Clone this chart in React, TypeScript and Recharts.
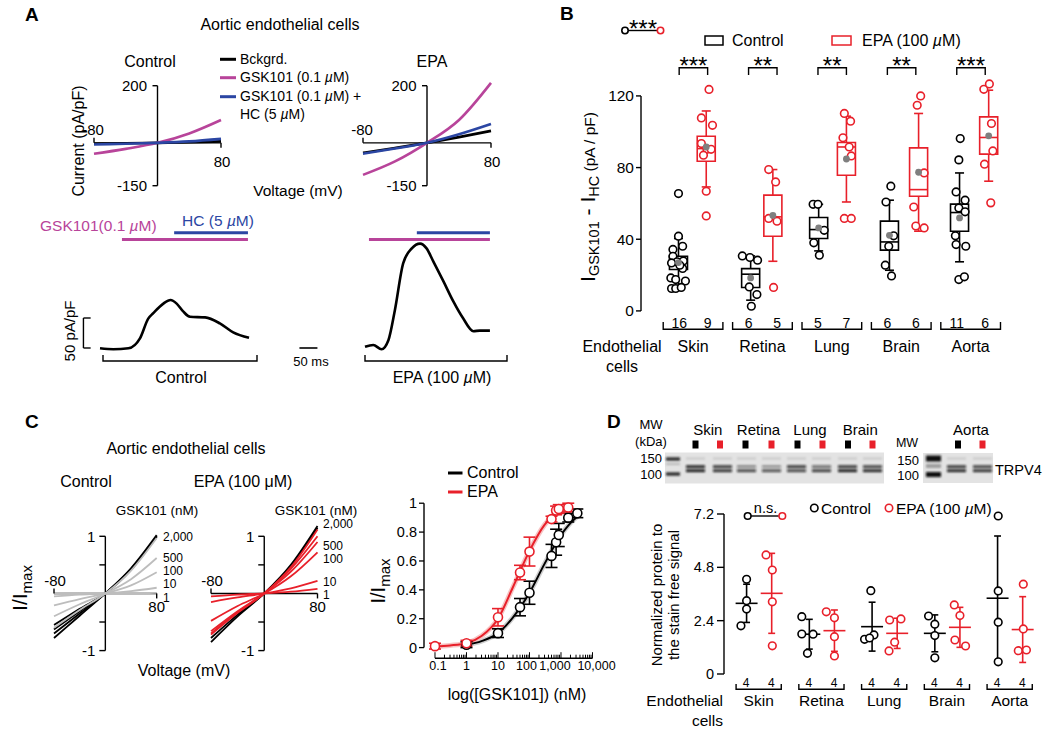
import React from "react";
import {
  ComposedChart, Line, Scatter, XAxis, YAxis,
  ReferenceLine, ReferenceArea, ReferenceDot, ErrorBar,
} from "recharts";

const FONT = "'Liberation Sans', Arial, Helvetica, sans-serif";
const RED = "#e8202a";
const MAGENTA = "#b8449a";
const BLUE = "#2b46a3";
const GREY_LINE = "#bdbdbd";
const MEAN_GREY = "#7f7f7f";

// ---------- A: I-V relations (mV, pA/pF) ----------
const ivVoltA = [-80, -40, 0, 40, 80];
const ivCtrlBckgrd = [-3, -1.5, 0, 2, 5];
const ivCtrlGsk = [-38, -21, 0, 33, 80];
const ivCtrlHc = [-6, -3, 0, 5, 14];
const ivEpaBckgrd = [-35, -18, 0, 20, 42];
const ivEpaGsk = [-112, -65, 0, 80, 210];
const ivEpaHc = [-38, -20, 0, 30, 66];

// ---------- A: time courses (ms, pA/pF) ----------
const traceCtrlT = [0, 37, 79, 111, 134, 148, 176, 196, 213, 231, 250, 292, 333, 370, 414];
const traceCtrlI = [-0.5, -2, -0.5, 16, 49, 58, 74, 80, 74, 61, 52, 51, 41, 26, 17];
const traceEpaT = [0, 23, 46, 65, 83, 106, 130, 153, 171, 190, 218, 245, 273, 301, 319, 347];
const traceEpaI = [2, 5, -2, 13, 63, 141, 166, 174, 166, 144, 111, 78, 49, 28, 29, 29];
const appCtrlGsk = [61, 411];
const appCtrlHc = [206, 411];
const appEpaGsk = [11, 347];
const appEpaHc = [144, 347];
const BAR_GSK = 181; // level of the application bars
const BAR_HC = 192;

// ---------- B ----------
const tissues = ["Skin", "Retina", "Lung", "Brain", "Aorta"];
const bCtrlN = [16, 6, 5, 6, 11];
const bEpaN = [9, 5, 7, 6, 6];
const bStars = ["***", "**", "**", "**", "***"];
// [whisker low, q1, median, q3, whisker high, mean]
const bCtrlBox = [
  [12.5, 23.1, 26.8, 30.5, 40.4, 27.0],
  [6.0, 13.1, 20.5, 23.6, 30.7, 18.4],
  [33.5, 40.4, 45.4, 52.1, 59.5, 46.3],
  [22.7, 33.9, 38.5, 50.1, 61.8, 42.2],
  [27.4, 44.5, 54.9, 59.6, 77.0, 51.9],
];
const bEpaBox = [
  [69.2, 83.5, 90.6, 97.5, 111.6, 91.5],
  [27.7, 41.7, 52.5, 64.6, 78.9, 53.3],
  [60.8, 75.7, 91.5, 94.0, 108.7, 84.8],
  [44.5, 64.0, 67.7, 91.0, 110.2, 77.4],
  [72.4, 87.5, 96.8, 108.3, 123.2, 97.7],
];
const bCtrlX = [0.29, 1.33, 2.31, 3.33, 4.34];
const bEpaX = [0.69, 1.65, 2.71, 3.75, 4.76];
const bCtrlPts = [
  [[0.29, 65.5], [0.29, 41.7], [0.21, 34.3], [0.35, 36.1], [0.21, 30.5], [0.27, 27.4], [0.36, 27.9], [0.19, 26.8], [0.35, 23.7], [0.18, 18.4], [0.25, 17.5], [0.39, 16.7], [0.19, 12.5], [0.25, 12.5], [0.33, 13.1], [0.31, 25.5]],
  [[1.21, 30.7], [1.32, 29.8], [1.43, 28.3], [1.31, 13.4], [1.42, 9.1], [1.34, 2.6]],
  [[2.23, 59.5], [2.3, 59.5], [2.39, 45.0], [2.24, 38.0], [2.32, 31.1]],
  [[3.35, 69.6], [3.28, 60.8], [3.32, 36.1], [3.39, 41.9], [3.27, 25.5], [3.36, 19.5]],
  [[4.35, 96.2], [4.33, 84.3], [4.29, 66.4], [4.42, 61.8], [4.33, 57.5], [4.42, 55.3], [4.28, 41.9], [4.29, 37.0], [4.43, 36.1], [4.33, 17.5], [4.41, 19.0]],
];
const bEpaPts = [
  [[0.73, 123.6], [0.62, 107.7], [0.78, 103.6], [0.62, 93.4], [0.7, 90.2], [0.76, 90.2], [0.65, 86.9], [0.69, 66.8], [0.69, 53.0]],
  [[1.59, 78.9], [1.69, 72.0], [1.59, 51.6], [1.71, 50.1], [1.66, 13.1]],
  [[2.68, 110.2], [2.77, 105.9], [2.66, 96.6], [2.75, 91.5], [2.78, 86.5], [2.68, 51.6], [2.78, 51.6]],
  [[3.73, 114.8], [3.78, 120.0], [3.68, 58.0], [3.83, 77.0], [3.71, 47.4], [3.83, 46.3]],
  [[4.69, 123.7], [4.77, 126.7], [4.8, 104.6], [4.82, 89.3], [4.7, 81.9], [4.79, 60.3]],
];

// ---------- C: normalized I-V ----------
const ivVoltC = [-80, -40, 0, 40, 80];
const cCtrlBlack = [
  [-0.55, -0.27, 0, 0.41, 1.0],
  [-0.63, -0.31, 0, 0.42, 1.0],
  [-0.7, -0.35, 0, 0.43, 0.99],
  [-0.78, -0.39, 0, 0.44, 1.02],
];
const cCtrlGrey = [
  [-0.6, -0.29, 0, 0.4, 0.97],
  [-0.4, -0.19, 0, 0.25, 0.62],
  [-0.21, -0.1, 0, 0.14, 0.37],
  [-0.05, -0.02, 0, 0.04, 0.1],
  [-0.01, 0, 0, 0, 0.01],
];
const cEpaBlack = [
  [-0.78, -0.37, 0, 0.48, 1.15],
  [-0.85, -0.4, 0, 0.5, 1.18],
];
const cEpaRed = [
  [-0.72, -0.34, 0, 0.46, 1.12],
  [-0.7, -0.33, 0, 0.43, 1.0],
  [-0.66, -0.31, 0, 0.38, 0.9],
  [-0.48, -0.22, 0, 0.3, 0.72],
  [-0.15, -0.07, 0, 0.09, 0.22],
  [-0.05, -0.02, 0, 0.03, 0.08],
];
const concLabels = ["2,000", "500", "100", "10", "1"];

// ---------- C: dose response ----------
const drCtrlConc = [1, 10, 50, 100, 500, 700, 850, 1700, 3300];
const drCtrlMean = [0.02, 0.1, 0.28, 0.38, 0.635, 0.73, 0.78, 0.9, 0.93];
const drCtrlErr = [0.02, 0.03, 0.06, 0.08, 0.08, 0.09, 0.08, 0.03, 0.03];
const drEpaConc = [0.1, 1, 10, 50, 100, 500, 700, 850, 1700];
const drEpaMean = [0.01, 0.03, 0.21, 0.52, 0.665, 0.89, 0.95, 0.96, 0.97];
const drEpaErr = [0.02, 0.02, 0.06, 0.05, 0.1, 0.02, 0.03, 0.03, 0.03];
const fitCtrlConc = [1, 3, 10, 30, 100, 300, 1000, 3000, 4000];
const fitCtrlVal = [0.02, 0.045, 0.1, 0.21, 0.38, 0.58, 0.78, 0.9, 0.92];
const fitEpaConc = [0.1, 0.3, 1, 3, 10, 30, 100, 300, 1000, 2000];
const fitEpaVal = [0.008, 0.015, 0.03, 0.08, 0.2, 0.42, 0.67, 0.85, 0.95, 0.97];
const drMajor = [0.1, 1, 10, 100, 1000, 10000];
const drMajorLabel = ["0.1", "1", "10", "100", "1,000", "10,000"];
const drLabelShift = [3, 0, 0, -3, -6, 4];
const drYTicks = [0, 0.2, 0.4, 0.6, 0.8, 1];

// ---------- D ----------
const dCtrlMean = [3.18, 1.79, 2.13, 1.83, 3.41];
const dCtrlSd = [0.86, 0.67, 1.1, 0.83, 2.8];
const dEpaMean = [3.63, 1.95, 1.83, 2.1, 2.0];
const dEpaSd = [1.8, 0.93, 0.68, 0.9, 1.48];
const dCtrlPts = [
  [[0.31, 4.26], [0.31, 3.3], [0.31, 2.92], [0.22, 2.17]],
  [[1.19, 2.58], [1.19, 1.8], [1.37, 1.79], [1.28, 0.93]],
  [[2.29, 3.75], [2.19, 1.56], [2.34, 1.76], [2.27, 1.62]],
  [[3.21, 2.61], [3.31, 2.24], [3.31, 1.73], [3.31, 0.73]],
  [[4.32, 7.11], [4.32, 3.74], [4.32, 2.33], [4.32, 0.55]],
];
const dEpaPts = [
  [[0.62, 5.36], [0.72, 4.68], [0.72, 3.25], [0.72, 1.27]],
  [[1.58, 2.8], [1.71, 2.53], [1.71, 1.68], [1.71, 0.81]],
  [[2.59, 2.43], [2.77, 2.48], [2.67, 1.43], [2.58, 1.04]],
  [[3.62, 3.11], [3.71, 2.63], [3.63, 1.53], [3.8, 1.26]],
  [[4.72, 4.04], [4.72, 2.03], [4.64, 1.05], [4.77, 1.08]],
];
const dN = [4, 4, 4, 4, 4];

// blot lanes (band darkness)
const blotLaneX = [686, 713, 737, 762, 787, 812, 838, 863, 947, 973];
const blotUpper = [0.95, 0.85, 0.45, 0.4, 0.85, 0.6, 0.85, 0.8, 0.85, 0.8];
const blotLower = [0.95, 0.85, 0.75, 0.7, 0.75, 0.8, 0.95, 0.9, 0.9, 0.85];
const blotSquareX = [695.5, 720, 745.5, 771.5, 797.5, 822.5, 848, 872.5, 958, 982.5];

// ---------- geometry ----------
type Rect = [number, number, number, number];
const PAD = 30;

const B_L = 641, B_XU = 69.4, B_XMIN = -0.25, B_XMAX = 5, B_Y0 = 310.7, B_YU = 1.7917, B_YMAX = 130;
const bx = (v: number) => B_L + (v - B_XMIN) * B_XU;
const D_X0 = 727.3, D_XU = 62.75, D_XMIN = -0.05, D_XMAX = 5;
const dx = (v: number) => D_X0 + v * D_XU;
const DR_XMIN = 0.0448, DR_YMIN = -0.0734;

function Plot({ rect, yw = 0, xh = 0, children }: { rect: Rect; yw?: number; xh?: number; children: React.ReactNode }) {
  const [l, t, r, b] = rect;
  return (
    <div style={{ position: "absolute", left: l - yw - PAD, top: t - PAD }}>
      <ComposedChart width={r - l + yw + 2 * PAD} height={b - t + xh + 2 * PAD}
        margin={{ top: PAD, right: PAD, bottom: PAD, left: PAD }}>
        {children}
      </ComposedChart>
    </div>
  );
}

function mark(ddx: number, ddy: number, label?: string, lx = 0, ly = 0, anchor = "middle", size = 15) {
  return (p: any) => (
    <g>
      <line x1={p.cx} y1={p.cy} x2={p.cx + ddx} y2={p.cy + ddy} stroke="#000" strokeWidth={1.4} />
      {label ? (
        <text x={p.cx + lx} y={p.cy + ly} textAnchor={anchor} fontSize={size} fontFamily={FONT} fill="#000">{label}</text>
      ) : null}
    </g>
  );
}

function seg(key: string, x1: number, y1: number, x2: number, y2: number, c: string, w = 1.6) {
  return <ReferenceLine key={key} segment={[{ x: x1, y: y1 }, { x: x2, y: y2 }]} stroke={c} strokeWidth={w} />;
}

const ring = (c: string, r = 3.8) => (p: any) => (
  <circle cx={p.cx} cy={p.cy} r={r} fill="#fff" stroke={c} strokeWidth={1.6} />
);

function IvA({ rect, bk, gsk, hc }: { rect: Rect; bk: number[]; gsk: number[]; hc: number[] }) {
  const ser = (v: number[]) => ivVoltA.map((x, i) => ({ x, y: v[i] }));
  return (
    <Plot rect={rect}>
      <XAxis type="number" dataKey="x" domain={[-80, 80]} hide />
      <YAxis type="number" dataKey="y" domain={[-150, 220]} hide />
      {seg("ya", 0, -150, 0, 200, "#000", 1.4)}
      {seg("xa", -80, 0, 80, 0, "#000", 1.4)}
      <ReferenceDot x={0} y={200} r={0} shape={mark(-5, 0, "200", -10.5, 5.5, "end")} />
      <ReferenceDot x={0} y={-150} r={0} shape={mark(-5, 0, "-150", -10.5, 5.5, "end")} />
      <ReferenceDot x={-80} y={0} r={0} shape={mark(0, -5, "-80", -1, -8)} />
      <ReferenceDot x={80} y={0} r={0} shape={mark(0, 5, "80", 1, 24)} />
      <Line data={ser(bk)} dataKey="y" type="monotone" stroke="#000" strokeWidth={2.6} dot={false} activeDot={false} isAnimationActive={false} />
      <Line data={ser(gsk)} dataKey="y" type="monotone" stroke={MAGENTA} strokeWidth={2.6} dot={false} activeDot={false} isAnimationActive={false} />
      <Line data={ser(hc)} dataKey="y" type="monotone" stroke={BLUE} strokeWidth={2.6} dot={false} activeDot={false} isAnimationActive={false} />
    </Plot>
  );
}

function Trace({ rect, domain, t, cur, gsk, hc, scaleBars }: any) {
  const data = t.map((x: number, k: number) => ({ x, y: cur[k] }));
  return (
    <Plot rect={rect}>
      <XAxis type="number" dataKey="x" domain={domain} hide />
      <YAxis type="number" dataKey="y" domain={[-20, 200]} hide />
      {seg("g", gsk[0], BAR_GSK, gsk[1], BAR_GSK, MAGENTA, 3)}
      {seg("h", hc[0], BAR_HC, hc[1], BAR_HC, BLUE, 3)}
      {scaleBars ? [
        seg("sv", -46, 0, -46, 50, "#000", 1.4),
        seg("st", -46, 50, -26, 50, "#000", 1.4),
        seg("sb", -46, 0, -26, 0, "#000", 1.4),
        seg("sm", 554, 0, 604, 0, "#000", 1.6),
      ] : null}
      <Line data={data} dataKey="y" type="monotone" stroke="#000" strokeWidth={2.6} dot={false} activeDot={false} isAnimationActive={false} />
    </Plot>
  );
}

function IvC({ rect, lines }: { rect: Rect; lines: { c: string; v: number[] }[] }) {
  return (
    <Plot rect={rect}>
      <XAxis type="number" dataKey="x" domain={[-80, 80]} hide />
      <YAxis type="number" dataKey="y" domain={[-1, 1.25]} hide />
      {seg("ya", 0, -1, 0, 1, "#000", 1.4)}
      {seg("xa", -80, 0, 80, 0, "#000", 1.4)}
      <ReferenceDot x={0} y={1} r={0} shape={mark(-6, 0, "1", -10, 5.5, "end")} />
      <ReferenceDot x={0} y={0.5} r={0} shape={mark(-6, 0)} />
      <ReferenceDot x={0} y={-0.5} r={0} shape={mark(-6, 0)} />
      <ReferenceDot x={0} y={-1} r={0} shape={mark(-6, 0, "-1", -10, 5.5, "end")} />
      <ReferenceDot x={-80} y={0} r={0} shape={mark(0, -5, "-80", 1, -7)} />
      <ReferenceDot x={80} y={0} r={0} shape={mark(0, 5, "80", 0, 19)} />
      {lines.map((ln, i) => (
        <Line key={i} data={ivVoltC.map((x, j) => ({ x, y: ln.v[j] }))} dataKey="y" type="monotone"
          stroke={ln.c} strokeWidth={1.8} dot={false} activeDot={false} isAnimationActive={false} />
      ))}
    </Plot>
  );
}

function LogTick(p: any) {
  const v = p.payload.value;
  const k = drMajor.indexOf(v);
  return (
    <g>
      <line x1={p.x} x2={p.x} y1={p.y} y2={p.y - (k >= 0 ? 6 : 3.5)} stroke="#000" strokeWidth={1} />
      {k >= 0 ? (
        <text x={p.x + drLabelShift[k]} y={p.y + 11.5} textAnchor="middle" fontSize={12.5} fontFamily={FONT} fill="#000">{drMajorLabel[k]}</text>
      ) : null}
    </g>
  );
}

function DoseResponse() {
  const minor = drMajor.slice(0, -1).flatMap((m) => [2, 3, 4, 5, 6, 7, 8, 9].map((k) => m * k));
  const ticks = [...drMajor, ...minor].sort((a, b) => a - b);
  const pts = (c: number[], m: number[], e: number[]) => c.map((x, i) => ({ x, y: m[i], e: e[i] }));
  const fit = (c: number[], v: number[]) => c.map((x, i) => ({ x, y: v[i] }));
  return (
    <Plot rect={[424, 496.1, 592.5, 658.3]} yw={40} xh={20}>
      <XAxis type="number" dataKey="x" scale="log" domain={[DR_XMIN, 10000]} ticks={ticks} interval={0}
        axisLine={false} tickLine={false} tickSize={0} tickMargin={0} height={20} tick={<LogTick />} />
      <YAxis type="number" dataKey="y" domain={[DR_YMIN, 1.05]} ticks={drYTicks} width={40} axisLine={false}
        tickSize={5} tickMargin={2} tickLine={{ stroke: "#000", strokeWidth: 1.3 }}
        tick={{ fontSize: 14.5, fill: "#000", fontFamily: FONT }}
        tickFormatter={(v: number) => (v === 0 || v === 1 ? String(v) : v.toFixed(1))} />
      {seg("ya", DR_XMIN, 0, DR_XMIN, 1, "#000", 1.4)}
      {seg("xa", 0.1, DR_YMIN, 10000, DR_YMIN, "#000", 1.4)}
      <Line data={fit(fitCtrlConc, fitCtrlVal)} dataKey="y" type="monotone" stroke="#cfcfcf" strokeWidth={5} dot={false} activeDot={false} isAnimationActive={false} />
      <Line data={fit(fitEpaConc, fitEpaVal)} dataKey="y" type="monotone" stroke="#f7c4c4" strokeWidth={5} dot={false} activeDot={false} isAnimationActive={false} />
      <Line data={fit(fitCtrlConc, fitCtrlVal)} dataKey="y" type="monotone" stroke="#000" strokeWidth={2} dot={false} activeDot={false} isAnimationActive={false} />
      <Line data={fit(fitEpaConc, fitEpaVal)} dataKey="y" type="monotone" stroke={RED} strokeWidth={2} dot={false} activeDot={false} isAnimationActive={false} />
      <Scatter data={pts(drCtrlConc, drCtrlMean, drCtrlErr)} shape={ring("#000", 4.5)} isAnimationActive={false}>
        <ErrorBar dataKey="e" direction="y" width={6} stroke="#000" strokeWidth={1.6} isAnimationActive={false} />
      </Scatter>
      <Scatter data={pts(drEpaConc, drEpaMean, drEpaErr)} shape={ring(RED, 4.5)} isAnimationActive={false}>
        <ErrorBar dataKey="e" direction="y" width={6} stroke={RED} strokeWidth={1.6} isAnimationActive={false} />
      </Scatter>
    </Plot>
  );
}

function PanelB() {
  const HW = 0.13, CAP = 0.065;
  const box = (st: number[], cx: number, c: string, key: string) => {
    const [lo, q1, md, q3, hi] = st;
    return [
      <ReferenceArea key={key + "a"} x1={cx - HW} x2={cx + HW} y1={q1} y2={q3} fill="none" fillOpacity={0} stroke={c} strokeWidth={1.6} />,
      seg(key + "m", cx - HW, md, cx + HW, md, c),
      seg(key + "u", cx, q3, cx, hi, c),
      seg(key + "uc", cx - CAP, hi, cx + CAP, hi, c),
      seg(key + "l", cx, q1, cx, lo, c),
      seg(key + "lc", cx - CAP, lo, cx + CAP, lo, c),
    ];
  };
  const toXY = (g: number[][][]) => g.flat().map(([x, y]) => ({ x, y }));
  return (
    <Plot rect={[B_L, B_Y0 - B_YMAX * B_YU, bx(B_XMAX), B_Y0]} yw={40}>
      <XAxis type="number" dataKey="x" domain={[B_XMIN, B_XMAX]} hide />
      <YAxis type="number" dataKey="y" domain={[0, B_YMAX]} ticks={[0, 40, 80, 120]} width={40} axisLine={false}
        tickSize={5} tickMargin={2} tickLine={{ stroke: "#000", strokeWidth: 1.4 }}
        tick={{ fontSize: 15.5, fill: "#000", fontFamily: FONT }} />
      {seg("yaxis", B_XMIN, 0, B_XMIN, 120, "#000", 1.4)}
      {bCtrlBox.map((s, i) => box(s, bCtrlX[i], "#000", "c" + i))}
      {bEpaBox.map((s, i) => box(s, bEpaX[i], RED, "e" + i))}
      <Scatter data={toXY(bCtrlPts)} shape={ring("#000")} isAnimationActive={false} />
      <Scatter data={toXY(bEpaPts)} shape={ring(RED)} isAnimationActive={false} />
      <Scatter data={bCtrlBox.map((s, i) => ({ x: bCtrlX[i], y: s[5] }))} fill={MEAN_GREY}
        shape={(p: any) => <circle cx={p.cx} cy={p.cy} r={3.4} fill={MEAN_GREY} />} isAnimationActive={false} />
      <Scatter data={bEpaBox.map((s, i) => ({ x: bEpaX[i], y: s[5] }))} fill={MEAN_GREY}
        shape={(p: any) => <circle cx={p.cx} cy={p.cy} r={3.4} fill={MEAN_GREY} />} isAnimationActive={false} />
    </Plot>
  );
}

function PanelD() {
  const HW = 0.175, CAP = 0.055;
  const sd = (m: number, s: number, cx: number, c: string, key: string) => [
    seg(key + "m", cx - HW, m, cx + HW, m, c),
    seg(key + "v", cx, m - s, cx, m + s, c),
    seg(key + "t", cx - CAP, m + s, cx + CAP, m + s, c),
    seg(key + "b", cx - CAP, m - s, cx + CAP, m - s, c),
  ];
  const toXY = (g: number[][][]) => g.flat().map(([x, y]) => ({ x, y }));
  return (
    <Plot rect={[dx(D_XMIN), 514, dx(D_XMAX), 674]} yw={40}>
      <XAxis type="number" dataKey="x" domain={[D_XMIN, D_XMAX]} hide />
      <YAxis type="number" dataKey="y" domain={[0, 7.2]} ticks={[0, 2.4, 4.8, 7.2]} width={40}
        axisLine={{ stroke: "#000", strokeWidth: 1.4 }} tickLine={{ stroke: "#000", strokeWidth: 1.4 }}
        tickSize={7} tickMargin={3} tick={{ fontSize: 14.5, fill: "#000", fontFamily: FONT }}
        tickFormatter={(v: number) => (v === 0 ? "0" : v.toFixed(1))} />
      {dCtrlMean.map((m, i) => sd(m, dCtrlSd[i], i + 0.31, "#000", "c" + i))}
      {dEpaMean.map((m, i) => sd(m, dEpaSd[i], i + 0.71, RED, "e" + i))}
      <Scatter data={toXY(dCtrlPts)} shape={ring("#000")} isAnimationActive={false} />
      <Scatter data={toXY(dEpaPts)} shape={ring(RED)} isAnimationActive={false} />
    </Plot>
  );
}

function Overlay() {
  const mu = <tspan fontStyle="italic">µ</tspan>;
  const br = (x1: number, x2: number, yl: number, yt: number, key: string) => (
    <path key={key} d={`M${x1},${yt} V${yl} H${x2} V${yt}`} fill="none" stroke="#000" strokeWidth={1.4} />
  );
  return (
    <svg width={1050} height={733} fontFamily={FONT} fill="#000"
      style={{ position: "absolute", left: 0, top: 0, zIndex: 5, pointerEvents: "none" }}>
      <defs>
        <filter id="blotBlur" x="-20%" y="-100%" width="140%" height="300%">
          <feGaussianBlur stdDeviation="0.8" />
        </filter>
      </defs>

      {/* ---- A ---- */}
      <text x={25} y={21} fontSize={19} fontWeight="bold">A</text>
      <text x={280} y={30} fontSize={16} textAnchor="middle">Aortic endothelial cells</text>
      <text x={150} y={67} fontSize={16} textAnchor="middle">Control</text>
      <text x={432} y={67} fontSize={16} textAnchor="middle">EPA</text>
      <line x1={220} x2={236} y1={59.3} y2={59.3} stroke="#000" strokeWidth={3} />
      <text x={240} y={64} fontSize={14}>Bckgrd.</text>
      <line x1={220} x2={236} y1={77.7} y2={77.7} stroke={MAGENTA} strokeWidth={3} />
      <text x={240} y={82} fontSize={14}>GSK101 (0.1 {mu}M)</text>
      <line x1={220} x2={236} y1={96.7} y2={96.7} stroke={BLUE} strokeWidth={3} />
      <text x={240} y={101} fontSize={14}>GSK101 (0.1 {mu}M) +</text>
      <text x={240} y={119} fontSize={14}>HC (5 {mu}M)</text>
      <text transform="rotate(-90 84 141)" x={84} y={141} fontSize={16} textAnchor="middle">Current (pA/pF)</text>
      <text x={298} y={195.5} fontSize={15.5} textAnchor="middle">Voltage (mV)</text>
      <text x={40} y={230.5} fontSize={15.5} fill={MAGENTA}>GSK101(0.1 {mu}M)</text>
      <text x={218} y={226} fontSize={15.5} fill={BLUE} textAnchor="middle">HC (5 {mu}M)</text>
      <text transform="rotate(-90 75 331)" x={75} y={331} fontSize={15} textAnchor="middle">50 pA/pF</text>
      <text x={311} y={366} fontSize={13} textAnchor="middle">50 ms</text>
      {br(103, 257, 361, 355, "abr1")}
      {br(365, 507, 361, 355, "abr2")}
      <text x={181} y={383} fontSize={16} textAnchor="middle">Control</text>
      <text x={442} y={383} fontSize={16} textAnchor="middle">EPA (100 {mu}M)</text>

      {/* ---- B ---- */}
      <text x={560} y={20} fontSize={19} fontWeight="bold">B</text>
      <line x1={628} x2={657.5} y1={30.5} y2={30.5} stroke="#000" strokeWidth={1.4} />
      <circle cx={625} cy={30.5} r={3.2} fill="#fff" stroke="#000" strokeWidth={1.6} />
      <circle cx={660.5} cy={30.5} r={3.2} fill="#fff" stroke={RED} strokeWidth={1.6} />
      <text x={643} y={37} fontSize={24} textAnchor="middle">***</text>
      <rect x={705} y={36} width={18} height={9} fill="none" stroke="#000" strokeWidth={1.5} />
      <text x={732} y={45.5} fontSize={16}>Control</text>
      <rect x={832} y={36} width={19} height={9} fill="none" stroke={RED} strokeWidth={1.5} />
      <text x={862} y={45.5} fontSize={16}>EPA (100 {mu}M)</text>
      <text transform="rotate(-90 595 197)" x={595} y={197} textAnchor="middle" fontSize={21}>
        I<tspan fontSize={14.5} dy={4}>GSK101</tspan><tspan dy={-4}> - I</tspan><tspan fontSize={14.5} dy={4}>HC</tspan>
        <tspan fontSize={15.5} dy={-4}> (pA / pF)</tspan>
      </text>
      {tissues.map((name, i) => {
        const x1 = bx(i + 0.3), x2 = bx(i + 0.71);
        return (
          <g key={"b" + name}>
            {br(x1, x2, 67.7, 75, "bt" + i)}
            <text x={(x1 + x2) / 2} y={74} fontSize={24} textAnchor="middle">{bStars[i]}</text>
            <text x={x1} y={327.5} fontSize={14} textAnchor="middle">{bCtrlN[i]}</text>
            <text x={x2} y={327.5} fontSize={14} textAnchor="middle">{bEpaN[i]}</text>
            {br(bx(i + 0.07), bx(i + 0.93), 329.3, 322, "bb" + i)}
            <text x={bx(i + 0.5)} y={352} fontSize={16} textAnchor="middle">{name}</text>
          </g>
        );
      })}
      <text x={622} y={352} fontSize={16} textAnchor="middle">Endothelial</text>
      <text x={622} y={372} fontSize={16} textAnchor="middle">cells</text>

      {/* ---- C ---- */}
      <text x={25} y={428} fontSize={19} fontWeight="bold">C</text>
      <text x={186} y={454} fontSize={16} textAnchor="middle">Aortic endothelial cells</text>
      <text x={86} y={487} fontSize={16} textAnchor="middle">Control</text>
      <text x={243} y={487} fontSize={16} textAnchor="middle">EPA (100 μM)</text>
      <text x={157} y={515} fontSize={13.5} textAnchor="middle">GSK101 (nM)</text>
      <text x={316} y={515} fontSize={13.5} textAnchor="middle">GSK101 (nM)</text>
      {concLabels.map((s, i) => (
        <text key={"cc" + i} x={163} y={[541, 561.5, 575, 588, 602][i]} fontSize={12}>{s}</text>
      ))}
      {concLabels.map((s, i) => (
        <text key={"ce" + i} x={323} y={[528, 549.5, 563, 586, 598.5][i]} fontSize={12}>{s}</text>
      ))}
      <text transform="rotate(-90 27 588)" x={27} y={588} textAnchor="middle" fontSize={21}>
        I/I<tspan fontSize={15} dy={5}>max</tspan>
      </text>
      <text x={184} y={676} fontSize={16} textAnchor="middle">Voltage (mV)</text>
      <text transform="rotate(-90 385 581)" x={385} y={581} textAnchor="middle" fontSize={20}>
        I/I<tspan fontSize={15} dy={5}>max</tspan>
      </text>
      <line x1={448} x2={462.5} y1={473} y2={473} stroke="#000" strokeWidth={3} />
      <text x={467} y={478} fontSize={16}>Control</text>
      <line x1={448} x2={462.5} y1={492} y2={492} stroke={RED} strokeWidth={3} />
      <text x={467} y={497} fontSize={16}>EPA</text>
      <text x={517} y={700} fontSize={16} textAnchor="middle">log([GSK101]) (nM)</text>

      {/* ---- D ---- */}
      <text x={607} y={428} fontSize={19} fontWeight="bold">D</text>
      <text x={651} y={429} fontSize={13} textAnchor="middle">MW</text>
      <text x={651} y={446} fontSize={13} textAnchor="middle">(kDa)</text>
      {tissues.slice(0, 4).map((name, i) => (
        <text key={"bl" + name} x={(blotSquareX[2 * i] + blotSquareX[2 * i + 1]) / 2} y={435} fontSize={15} textAnchor="middle">{name}</text>
      ))}
      <text x={971} y={435} fontSize={15} textAnchor="middle">Aorta</text>
      <text x={907} y={447} fontSize={12.5} textAnchor="middle">MW</text>
      <text x={662} y={463} fontSize={13} textAnchor="end">150</text>
      <text x={662} y={479} fontSize={13} textAnchor="end">100</text>
      <text x={919} y={465} fontSize={13} textAnchor="end">150</text>
      <text x={919} y={480} fontSize={13} textAnchor="end">100</text>
      <text x={995} y={475} fontSize={14.5}>TRPV4</text>
      {blotSquareX.map((x, i) => (
        <rect key={"sq" + i} x={x - 3} y={440.5} width={6} height={8} fill={i % 2 ? RED : "#000"} />
      ))}
      <rect x={665} y={452.5} width={219} height={31} fill="#e3e3e3" />
      <rect x={923} y={453} width={70} height={30} fill="#e3e3e3" />
      <g filter="url(#blotBlur)">
        <rect x={666} y={457.5} width={14} height={3} fill="#1a1a1a" />
        <rect x={666} y={463} width={14} height={2} fill="#777" opacity={0.4} />
        <rect x={666} y={472.5} width={14} height={3} fill="#1a1a1a" />
        <rect x={926} y={455.5} width={15} height={6} fill="#111" />
        <rect x={926} y={464} width={15} height={4} fill="#555" opacity={0.5} />
        <rect x={926} y={472} width={15} height={5} fill="#111" />
        {blotLaneX.map((x, i) => (
          <g key={"ln" + i}>
            <rect x={x} y={457.5} width={19} height={2} fill="#000" opacity={0.12} />
            <rect x={x} y={465.3} width={19} height={2.6} fill="#111" opacity={blotUpper[i]} />
            <rect x={x} y={469.3} width={19} height={2.8} fill="#111" opacity={blotLower[i]} />
          </g>
        ))}
      </g>
      <line x1={751} x2={778.8} y1={516} y2={516} stroke="#000" strokeWidth={1.4} />
      <circle cx={747.7} cy={516} r={3.3} fill="#fff" stroke="#000" strokeWidth={1.6} />
      <circle cx={782.3} cy={516} r={3.3} fill="#fff" stroke={RED} strokeWidth={1.6} />
      <text x={765.5} y={513} fontSize={14.5} textAnchor="middle">n.s.</text>
      <circle cx={814.3} cy={508} r={3.7} fill="#fff" stroke="#000" strokeWidth={1.6} />
      <text x={821} y={513.5} fontSize={15.5}>Control</text>
      <circle cx={889} cy={508} r={3.7} fill="#fff" stroke={RED} strokeWidth={1.6} />
      <text x={896} y={513.5} fontSize={15.5}>EPA (100 {mu}M)</text>
      <text transform="rotate(-90 662 595)" x={662} y={595} fontSize={15} textAnchor="middle">Normalized protein to</text>
      <text transform="rotate(-90 679 595)" x={679} y={595} fontSize={15} textAnchor="middle">the stain free signal</text>
      {tissues.map((name, i) => (
        <g key={"d" + name}>
          <text x={dx(i + 0.3)} y={686.5} fontSize={12} textAnchor="middle">{dN[i]}</text>
          <text x={dx(i + 0.7)} y={686.5} fontSize={12} textAnchor="middle">{dN[i]}</text>
          {br(dx(i + 0.14), dx(i + 0.86), 689.3, 684, "db" + i)}
          <text x={dx(i + 0.5)} y={706} fontSize={15.5} textAnchor="middle">{name}</text>
        </g>
      ))}
      <text x={723} y={706} fontSize={15.5} textAnchor="end">Endothelial</text>
      <text x={723} y={726} fontSize={15.5} textAnchor="end">cells</text>
    </svg>
  );
}

export default function App() {
  return (
    <div style={{ position: "absolute", left: 0, top: 0, width: 1050, height: 733, background: "#fff", overflow: "hidden", fontFamily: FONT }}>
      <IvA rect={[94, 80.15, 221, 185.86]} bk={ivCtrlBckgrd} gsk={ivCtrlGsk} hc={ivCtrlHc} />
      <IvA rect={[363, 80.15, 491, 185.86]} bk={ivEpaBckgrd} gsk={ivEpaGsk} hc={ivEpaHc} />
      <Trace rect={[82, 228, 323.2, 360]} domain={[-50, 620]} t={traceCtrlT} cur={traceCtrlI} gsk={appCtrlGsk} hc={appCtrlHc} scaleBars />
      <Trace rect={[365, 228, 516.2, 360]} domain={[0, 420]} t={traceEpaT} cur={traceEpaI} gsk={appEpaGsk} hc={appEpaHc} />
      <PanelB />
      <IvC rect={[54, 522.4, 156.7, 651]} lines={[
        ...cCtrlBlack.map((v) => ({ c: "#000", v })),
        ...cCtrlGrey.map((v) => ({ c: GREY_LINE, v })),
      ]} />
      <IvC rect={[211, 522.4, 317.5, 651]} lines={[
        ...cEpaBlack.map((v) => ({ c: "#000", v })),
        ...cEpaRed.map((v) => ({ c: RED, v })),
      ]} />
      <DoseResponse />
      <PanelD />
      <Overlay />
    </div>
  );
}
